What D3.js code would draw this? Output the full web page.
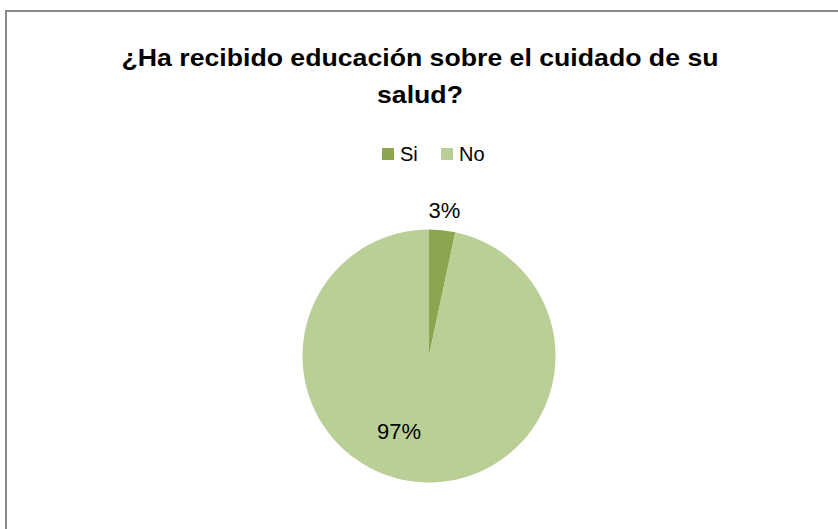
<!DOCTYPE html>
<html>
<head>
<meta charset="utf-8">
<script src="https://cdn.jsdelivr.net/npm/d3@7"></script>
<style>
	body { margin: 0; background: #fff; }
	svg text { font-family: "Liberation Sans", Arial, sans-serif; fill: #000; }
</style>
</head>
<body>
<div id="chart"></div>
<script>
const TITLE_LINES = ["¿Ha recibido educación sobre el cuidado de su", "salud?"];
const categories = ["Si", "No"];
const values = [1, 29];
const colors = ["#8ca64f", "#b9cf96"];

const WIDTH = 838;
const HEIGHT = 529;
const CX = 429;
const CY = 356;
const RADIUS = 126.5;

const svg = d3.select("#chart").append("svg")
	.attr("width", WIDTH)
	.attr("height", HEIGHT);

// chart frame, cut by the picture on right and bottom
svg.append("rect")
	.attr("x", 6)
	.attr("y", 11)
	.attr("width", 900)
	.attr("height", 600)
	.attr("fill", "#fff")
	.attr("stroke", "#898989")
	.attr("stroke-width", 2);

// title
const title = svg.append("g")
	.attr("font-weight", "bold")
	.attr("font-size", 24);

const line1 = title.append("text")
	.attr("x", 420)
	.attr("y", 66)
	.attr("text-anchor", "middle")
	.text(TITLE_LINES[0]);

const ratio = 597 / line1.node().getComputedTextLength();
line1.attr("textLength", 597).attr("lengthAdjust", "spacingAndGlyphs");

const line2 = title.append("text")
	.attr("x", 420)
	.attr("y", 103)
	.attr("text-anchor", "middle")
	.text(TITLE_LINES[1]);
line2.attr("textLength", line2.node().getComputedTextLength() * ratio)
	.attr("lengthAdjust", "spacingAndGlyphs");

// legend
const legendX = d3.scalePoint()
	.domain(categories)
	.range([382, 441]);

const legend = svg.append("g")
	.selectAll("g")
	.data(categories)
	.enter()
	.append("g")
	.attr("transform", d => "translate(" + legendX(d) + ",148)");

legend.append("rect")
	.attr("width", 12)
	.attr("height", 12)
	.attr("fill", (d, i) => colors[i]);

legend.append("text")
	.attr("x", 18)
	.attr("y", 13)
	.attr("font-size", 20)
	.text(d => d);

// pie
const pie = d3.pie().sort(null)(values);
const arc = d3.arc().innerRadius(0).outerRadius(RADIUS);
const total = d3.sum(values);
const fmt = d3.format(".0%");

const g = svg.append("g")
	.attr("transform", "translate(" + CX + "," + CY + ")");

g.selectAll("path")
	.data(pie)
	.enter()
	.append("path")
	.attr("d", arc)
	.attr("fill", (d, i) => colors[i]);

// labels: small slice outside, big slice inside (excel best fit)
const labelRadius = [RADIUS + 20, RADIUS * 0.6];
const labelNudge = [[0, 0], [-22, 0]];

g.selectAll(".label")
	.data(pie)
	.enter()
	.append("text")
	.attr("class", "label")
	.attr("text-anchor", "middle")
	.attr("font-size", 22)
	.attr("x", (d, i) => {
		const a = (d.startAngle + d.endAngle) / 2;
		return Math.sin(a) * labelRadius[i] + labelNudge[i][0];
	})
	.attr("y", (d, i) => {
		const a = (d.startAngle + d.endAngle) / 2;
		return -Math.cos(a) * labelRadius[i] + labelNudge[i][1] + 8;
	})
	.text(d => fmt(d.value / total));
</script>
</body>
</html>
